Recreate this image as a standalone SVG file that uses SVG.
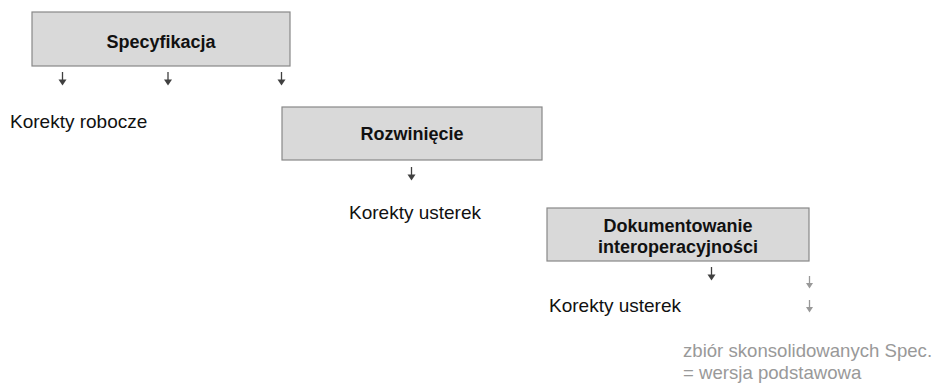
<svg xmlns="http://www.w3.org/2000/svg" width="936" height="383" viewBox="0 0 936 383">
<style>
.box{fill:#d9d9d9;stroke:#888;stroke-width:1.2}
.bt{font-family:"Liberation Sans",Arial,sans-serif;font-weight:bold;font-size:18px;fill:#111;text-anchor:middle}
.t{font-family:"Liberation Sans",Arial,sans-serif;font-size:19px;fill:#111}
.g{font-family:"Liberation Sans",Arial,sans-serif;font-size:18.6px;fill:#999}
.a{stroke:#404040;stroke-width:1.3;fill:none}
.ag{stroke:#999;stroke-width:1.3;fill:none}
</style>
<rect width="936" height="383" fill="#fff"/>
<g id="spec"><rect class="box" x="32" y="12" width="258" height="54"/><text class="bt" x="161" y="48">Specyfikacja</text></g>
<g id="rozw"><rect class="box" x="282" y="107" width="260" height="53"/><text class="bt" x="412" y="140">Rozwinięcie</text></g>
<g id="dok"><rect class="box" x="547" y="208" width="262" height="53"/><text class="bt" x="678" y="232">Dokumentowanie</text><text class="bt" x="678" y="253">interoperacyjności</text></g>
<g id="labels">
<text class="t" x="10" y="128">Korekty robocze</text>
<text class="t" x="349" y="219">Korekty usterek</text>
<text class="t" x="549" y="312">Korekty usterek</text>
<text class="g" x="683" y="357">zbiór skonsolidowanych Spec.</text>
<text class="g" x="683" y="379">= wersja podstawowa</text>
</g>
<g id="connectors">
<g class="a">
<path d="M62.5 72 V83"/><path d="M168 72 V83"/><path d="M281.5 72 V83"/><path d="M411.5 167 V178"/><path d="M711.5 267 V278"/>
</g>
<g fill="#404040">
<path d="M58.5 79.5 H66.5 L62.5 85.5 Z"/><path d="M164 79.5 H172 L168 85.5 Z"/><path d="M277.5 79.5 H285.5 L281.5 85.5 Z"/><path d="M407.5 174.5 H415.5 L411.5 180.5 Z"/><path d="M707.5 274.5 H715.5 L711.5 280.5 Z"/>
</g>
<g class="ag"><path d="M809.5 276 V287"/><path d="M809.5 300 V311"/></g>
<g fill="#999"><path d="M806 283 H813 L809.5 288.5 Z"/><path d="M806 307 H813 L809.5 312.5 Z"/></g>
</g>
</svg>
